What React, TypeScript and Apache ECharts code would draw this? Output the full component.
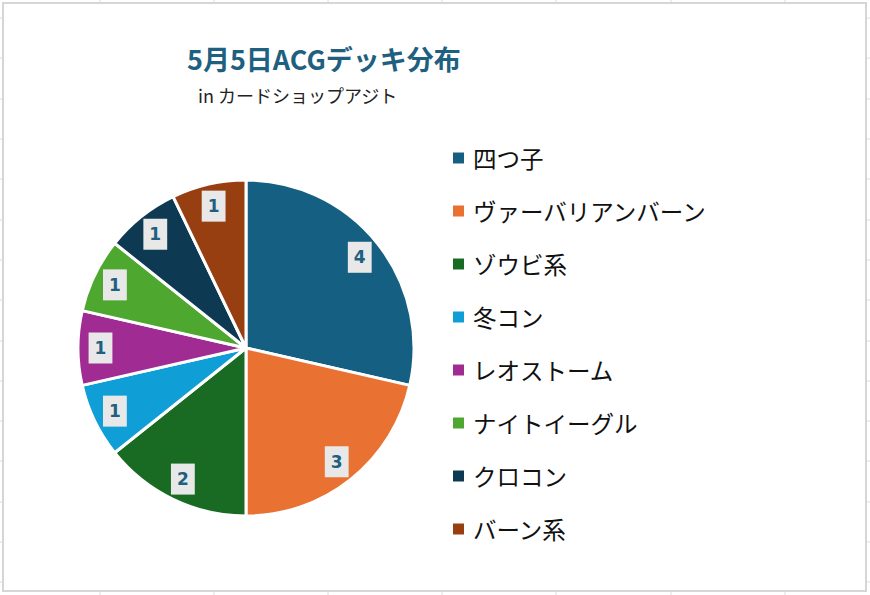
import React, { useEffect, useRef } from "react";
import * as echarts from "echarts";

const categories = ["四つ子", "ヴァーバリアンバーン", "ゾウビ系", "冬コン", "レオストーム", "ナイトイーグル", "クロコン", "バーン系"];
const counts = [4, 3, 2, 1, 1, 1, 1, 1];
const colors = ["#156082", "#e97132", "#196b24", "#0f9ed5", "#a02b93", "#4ea72e", "#0d3a52", "#973f10"];
const titleText = "5月5日ACGデッキ分布";
const subtitleText = "in カードショップアジト";

const gridXs = [100, 214, 328, 442, 556, 671, 785];
const gridYs = [18, 58, 99, 139, 179, 220, 260, 300, 341, 381, 421, 461, 502, 542, 582];

export default function App() {
  const ref = useRef<HTMLDivElement>(null);
  useEffect(() => {
    if (!ref.current) return;
    const chart = echarts.init(ref.current, null, { renderer: "svg" });
    const data = categories.map((name, i) => ({ name, value: counts[i], itemStyle: { color: colors[i] } }));
    const gridLines: any[] = [];
    gridXs.forEach((x) => gridLines.push({ type: "line", shape: { x1: x, y1: 0, x2: x, y2: 595 }, style: { stroke: "#dcdcdc", lineWidth: 1 }, silent: true }));
    gridYs.forEach((y) => gridLines.push({ type: "line", shape: { x1: 0, y1: y, x2: 870, y2: y }, style: { stroke: "#dcdcdc", lineWidth: 1 }, silent: true }));
    chart.setOption({
      animation: false,
      backgroundColor: "#ffffff",
      graphic: [
        ...gridLines,
        { type: "rect", shape: { x: 3, y: 3, width: 863, height: 588 }, style: { fill: "#ffffff", stroke: "#d6d6d6", lineWidth: 2 }, silent: true },
      ],
      title: [
        {
          text: titleText,
          left: 187,
          top: 45,
          padding: 0,
          textStyle: { fontFamily: "Noto Sans CJK JP", fontWeight: "bold", fontSize: 27, color: "#1f5f7f" },
        },
        {
          text: subtitleText,
          left: 198,
          top: 86,
          padding: 0,
          textStyle: { fontFamily: "Noto Sans CJK JP", fontWeight: "normal", fontSize: 18, color: "#222222" },
        },
      ],
      legend: {
        orient: "vertical",
        left: 446,
        top: 138,
        padding: 5,
        itemWidth: 13,
        itemHeight: 13,
        itemGap: 23,
        icon: "rect",
        selectedMode: false,
        data: categories,
        textStyle: { fontFamily: "Noto Sans CJK JP", fontSize: 23.5, color: "#111111", lineHeight: 30, padding: [0, 0, 0, 3] },
      },
      series: [
        {
          type: "pie",
          center: [246, 348],
          radius: 168,
          startAngle: 90,
          clockwise: true,
          silent: true,
          data,
          label: { show: false },
          labelLine: { show: false },
          itemStyle: { borderColor: "#ffffff", borderWidth: 3 },
          emphasis: { disabled: true },
        },
        {
          type: "pie",
          center: [246, 348],
          radius: [117, 168],
          startAngle: 90,
          clockwise: true,
          silent: true,
          legendHoverLink: false,
          data: categories.map((name, i) => ({ name, value: counts[i] })),
          itemStyle: { color: "rgba(0,0,0,0)", borderWidth: 0 },
          emphasis: { disabled: true },
          labelLine: { show: false },
          label: {
            show: true,
            position: "inside",
            formatter: "{c}",
            fontFamily: "DejaVu Sans",
            fontWeight: "bold",
            fontSize: 17,
            color: "#1f5f7f",
            backgroundColor: "#e8e8e8",
            padding: [7, 6, 6, 6],
            lineHeight: 18,
          },
        },
      ],
    });
    return () => chart.dispose();
  }, []);
  return <div ref={ref} style={{ position: "absolute", left: 0, top: 0, width: 870, height: 595 }} />;
}
